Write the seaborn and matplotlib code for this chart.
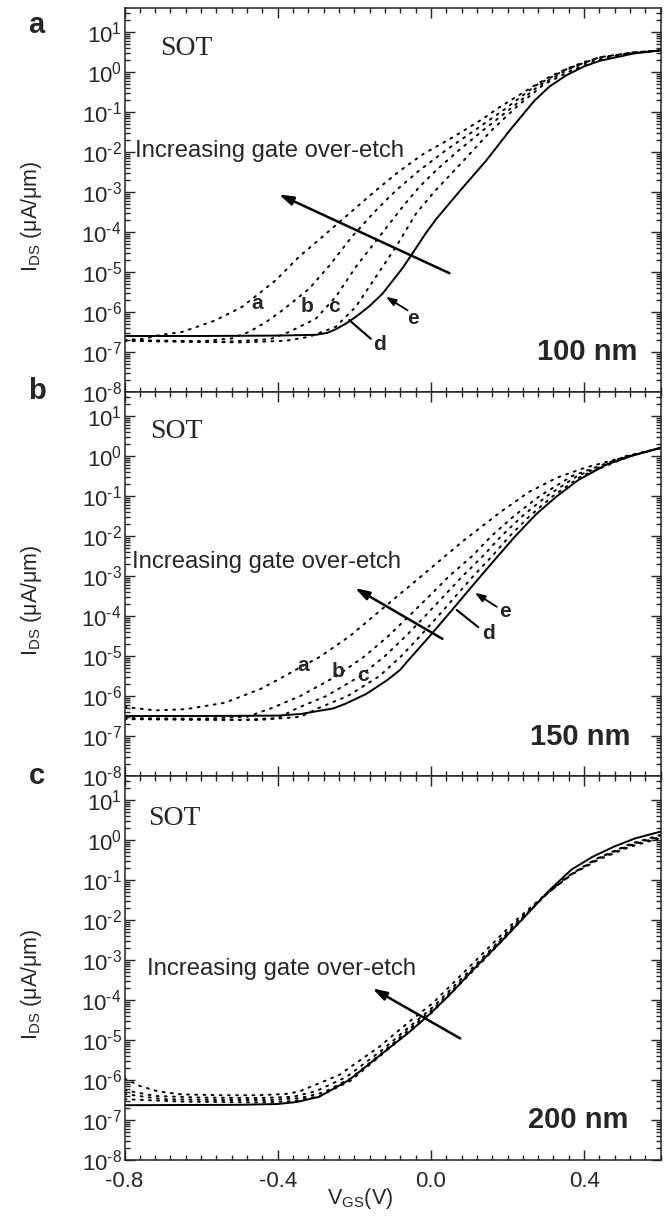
import numpy as np
import pandas as pd
import matplotlib
matplotlib.use("Agg")
import matplotlib.pyplot as plt
import seaborn as sns
from matplotlib.ticker import FixedLocator, MultipleLocator, LogLocator, FuncFormatter, NullFormatter

# ---------------- data (V_GS in volts, log10 of I_DS in uA/um) ----------------
curve_names = ["a", "b", "c", "d", "e"]

# panel a : 100 nm
A_a_V = [-0.80, -0.75, -0.71, -0.65, -0.5625, -0.4928, -0.4054, -0.3444, -0.2833, -0.2135, -0.1436, -0.0825,
         -0.02, 0.0484, 0.092, 0.1356, 0.179, 0.223, 0.2665, 0.31, 0.354, 0.40, 0.441, 0.528, 0.60]
A_a_L = [-6.70, -6.67, -6.58, -6.50, -6.21, -5.87, -5.21, -4.62, -4.12, -3.54, -2.96, -2.48,
         -2.05, -1.68, -1.43, -1.17, -0.88, -0.62, -0.36, -0.12, 0.08, 0.25, 0.36, 0.49, 0.54]
A_b_V = [-0.80, -0.60, -0.52, -0.4753, -0.43, -0.388, -0.3182, -0.2658, -0.2048, -0.1436, -0.09, -0.03,
         0.04, 0.114, 0.19, 0.275, 0.354, 0.441, 0.528, 0.60]
A_b_L = [-6.70, -6.73, -6.66, -6.50, -6.25, -5.96, -5.42, -4.85, -4.10, -3.46, -2.95, -2.46,
         -1.95, -1.46, -0.95, -0.33, 0.07, 0.37, 0.49, 0.54]
A_c_V = [-0.80, -0.55, -0.42, -0.3706, -0.3007, -0.2483, -0.1959, -0.1349, -0.0738, -0.03, 0.0135, 0.07,
         0.136, 0.21, 0.285, 0.36, 0.441, 0.528, 0.60]
A_c_L = [-6.72, -6.75, -6.68, -6.50, -6.17, -5.62, -4.87, -4.12, -3.37, -2.87, -2.46, -1.98,
         -1.46, -0.90, -0.32, 0.07, 0.36, 0.48, 0.54]
A_d_V = [-0.80, -0.50, -0.38, -0.318, -0.2483, -0.196, -0.1436, -0.0912, -0.0388, 0.01, 0.0615, 0.11,
         0.158, 0.225, 0.295, 0.37, 0.45, 0.528, 0.60]
A_d_L = [-6.72, -6.76, -6.72, -6.62, -6.37, -5.87, -5.12, -4.37, -3.54, -2.98, -2.46, -1.96,
         -1.46, -0.86, -0.31, 0.05, 0.35, 0.48, 0.54]
A_e_V = [-0.80, -0.60, -0.40, -0.30, -0.27, -0.2483, -0.222, -0.1959, -0.16, -0.1262, -0.0738, -0.0388,
         -0.0126, 0.0135, 0.075, 0.144, 0.205, 0.27, 0.31, 0.354, 0.40, 0.441, 0.528, 0.60]
A_e_L = [-6.60, -6.60, -6.59, -6.57, -6.52, -6.43, -6.29, -6.12, -5.85, -5.54, -4.90, -4.40,
         -4.02, -3.68, -2.98, -2.22, -1.47, -0.72, -0.36, -0.08, 0.14, 0.28, 0.46, 0.54]

# panel b : 150 nm
B_a_V = [-0.80, -0.72, -0.64, -0.5385, -0.4461, -0.3815, -0.333, -0.2896, -0.2113, -0.1243, -0.037, 0.0846,
         0.1819, 0.2558, 0.3296, 0.4035, 0.4774, 0.54, 0.60]
B_a_L = [-6.27, -6.36, -6.33, -6.17, -5.83, -5.50, -5.24, -5.02, -4.50, -3.80, -3.10, -2.12,
         -1.40, -0.90, -0.54, -0.29, -0.10, 0.05, 0.20]
B_b_V = [-0.80, -0.60, -0.48, -0.415, -0.341, -0.246, -0.172, -0.111, -0.057, -0.004, 0.048, 0.108,
         0.158, 0.217, 0.284, 0.369, 0.51, 0.60]
B_b_L = [-6.55, -6.57, -6.52, -6.30, -6.00, -5.50, -5.00, -4.50, -4.00, -3.50, -3.00, -2.50,
         -2.00, -1.50, -1.00, -0.50, 0.00, 0.20]
B_c_V = [-0.80, -0.50, -0.40, -0.348, -0.273, -0.184, -0.120, -0.065, -0.015, 0.034, 0.083, 0.136,
         0.184, 0.239, 0.303, 0.382, 0.515, 0.60]
B_c_L = [-6.57, -6.60, -6.55, -6.30, -6.00, -5.50, -5.00, -4.50, -4.00, -3.50, -3.00, -2.50,
         -2.00, -1.50, -1.00, -0.50, 0.00, 0.19]
B_d_V = [-0.80, -0.45, -0.34, -0.293, -0.217, -0.134, -0.077, -0.028, 0.019, 0.065, 0.111, 0.160,
         0.206, 0.258, 0.319, 0.393, 0.52, 0.60]
B_d_L = [-6.58, -6.60, -6.52, -6.30, -6.00, -5.50, -5.00, -4.50, -4.00, -3.50, -3.00, -2.50,
         -2.00, -1.50, -1.00, -0.50, 0.00, 0.20]
B_e_V = [-0.80, -0.60, -0.40, -0.34, -0.2548, -0.2245, -0.169, -0.1136, -0.0807, -0.0582, -0.0028, 0.0526,
         0.108, 0.1634, 0.2188, 0.2742, 0.3296, 0.385, 0.459, 0.5236, 0.60]
B_e_L = [-6.50, -6.50, -6.49, -6.45, -6.31, -6.20, -5.95, -5.60, -5.35, -5.10, -4.50, -3.88,
         -3.25, -2.63, -2.02, -1.46, -1.00, -0.60, -0.21, 0.00, 0.21]

# panel c : 200 nm
C_a_V = [-0.80, -0.76, -0.71, -0.65, -0.55, -0.45, -0.38, -0.3444, -0.2397, -0.1349, -0.0563, 0.0047,
         0.066, 0.1445, 0.223, 0.30, 0.37, 0.44, 0.52, 0.60]
C_a_L = [-5.96, -6.15, -6.29, -6.36, -6.38, -6.38, -6.35, -6.29, -5.875, -5.17, -4.54, -4.08,
         -3.50, -2.75, -2.00, -1.35, -0.85, -0.48, -0.17, 0.05]
C_b_V = [-0.80, -0.72, -0.60, -0.45, -0.36, -0.30, -0.22, -0.13, -0.05, 0.01, 0.07, 0.15,
         0.225, 0.30, 0.37, 0.44, 0.52, 0.60]
C_b_L = [-6.25, -6.40, -6.44, -6.45, -6.42, -6.28, -5.92, -5.27, -4.62, -4.14, -3.56, -2.80,
         -2.04, -1.36, -0.84, -0.46, -0.14, 0.08]
C_c_V = [-0.80, -0.70, -0.55, -0.42, -0.34, -0.28, -0.21, -0.13, -0.05, 0.01, 0.07, 0.15,
         0.225, 0.30, 0.37, 0.44, 0.52, 0.60]
C_c_L = [-6.35, -6.48, -6.50, -6.50, -6.45, -6.31, -5.96, -5.34, -4.68, -4.19, -3.62, -2.84,
         -2.08, -1.37, -0.83, -0.44, -0.12, 0.10]
C_d_V = [-0.80, -0.65, -0.45, -0.36, -0.29, -0.21, -0.13, -0.05, 0.00, 0.06, 0.13, 0.20,
         0.28, 0.35, 0.43, 0.52, 0.60]
C_d_L = [-6.48, -6.54, -6.56, -6.53, -6.40, -6.02, -5.38, -4.74, -4.34, -3.76, -3.08, -2.38,
         -1.55, -0.95, -0.48, -0.10, 0.13]
C_e_V = [-0.80, -0.50, -0.40, -0.35, -0.292, -0.2135, -0.1262, -0.0563, -0.0084, 0.0484, 0.1095, 0.1793,
         0.2665, 0.31, 0.367, 0.422, 0.477, 0.533, 0.60]
C_e_L = [-6.63, -6.62, -6.60, -6.55, -6.42, -6.00, -5.33, -4.80, -4.40, -3.875, -3.25, -2.58,
         -1.70, -1.25, -0.74, -0.42, -0.17, 0.04, 0.21]

panel_letters = ["a", "b", "c"]
gate_lengths = ["100 nm", "150 nm", "200 nm"]
device_label = "SOT"
arrow_text = "Increasing gate over-etch"

x_ticks = [-0.8, -0.4, 0.0, 0.4]
x_ticklabels = ["-0.8", "-0.4", "0.0", "0.4"]
y_exponents = [-8, -7, -6, -5, -4, -3, -2, -1, 0, 1]

# big arrows (tail -> head), (V, log10 I)
big_arrows = [((0.0484, -5.03), (-0.3968, -3.06)),
              ((0.0300, -4.57), (-0.1980, -3.30)),
              ((0.0764, -4.96), (-0.1524, -3.71))]
# curve labels: (label, V, log10 I)
curve_label_pos = [
    [("a", -0.4536, -5.79), ("b", -0.3227, -5.86), ("c", -0.2527, -5.87), ("d", -0.135, -6.80), ("e", -0.0477, -6.17)],
    [("a", -0.333, -5.23), ("b", -0.2418, -5.39), ("c", -0.1765, -5.48), ("d", 0.150, -4.43), ("e", 0.1935, -3.89)],
    [],
]
# leader for d (plain line) and e (arrow): start -> end
d_leaders = [((-0.2135, -6.20), (-0.1567, -6.67)), ((0.0674, -3.85), (0.1238, -4.28)), None]
e_leaders = [((-0.0607, -5.96), (-0.1174, -5.62)), ((0.1718, -3.77), (0.1151, -3.42)), None]

sot_pos = [(0.066, 0.878), (0.048, 0.880), (0.044, 0.872)]
txt_pos = [(0.0196, 0.612), (0.0147, 0.542), (0.0412, 0.482)]
nm_pos = [(0.957, 0.083), (0.943, 0.081), (0.939, 0.083)]
letter_pos = [(36.5, 25), (36.5, 391), (36.5, 776)]

panels = [
    [(A_a_V, A_a_L), (A_b_V, A_b_L), (A_c_V, A_c_L), (A_d_V, A_d_L), (A_e_V, A_e_L)],
    [(B_a_V, B_a_L), (B_b_V, B_b_L), (B_c_V, B_c_L), (B_d_V, B_d_L), (B_e_V, B_e_L)],
    [(C_a_V, C_a_L), (C_b_V, C_b_L), (C_c_V, C_c_L), (C_d_V, C_d_L), (C_e_V, C_e_L)],
]

# ---------------- style ----------------
sns.set_theme(style="ticks")
plt.rcParams["font.family"] = ["Liberation Sans", "DejaVu Sans"]
plt.rcParams["mathtext.fontset"] = "custom"
plt.rcParams["mathtext.rm"] = "Liberation Sans"
plt.rcParams["mathtext.it"] = "Liberation Sans:italic"
plt.rcParams["mathtext.bf"] = "Liberation Sans:bold"
plt.rcParams["mathtext.default"] = "regular"
plt.rcParams["axes.unicode_minus"] = False

W, H = 672, 1218
fig = plt.figure(figsize=(W / 100, H / 100), dpi=100)
left_px, right_px = 124.5, 660.7
top_px, ph = 8.0, 384.0

palette = {n: "black" for n in curve_names}
dashes = {n: (1.0, 3.2) for n in curve_names[:-1]}
dashes["e"] = ""


def px_axes(i):
    top = top_px + i * ph
    return [left_px / W, 1 - (top + ph) / H, (right_px - left_px) / W, ph / H]


def L2I(v):
    return 10.0 ** v


def ylab(y, p):
    e = int(round(np.log10(y)))
    if e < 0:
        return r"$10^{\text{-}%d}$" % (-e)
    return r"$10^{%d}$" % e


for i, curves in enumerate(panels):
    ax = fig.add_axes(px_axes(i))
    rows = []
    for name, (vv, ll) in zip(curve_names, curves):
        for v, l in zip(vv, ll):
            rows.append({"V": v, "I": L2I(l), "curve": name})
    df = pd.DataFrame(rows)
    sns.lineplot(data=df, x="V", y="I", hue="curve", style="curve", palette=palette,
                 dashes=dashes, estimator=None, sort=False, legend=False, linewidth=1.4, ax=ax)
    for ln in ax.get_lines():
        ln.set_solid_capstyle("round")
        ln.set_dash_capstyle("round")
        ln.set_solid_joinstyle("round")
    ax.set_yscale("log")
    ax.set_xlim(-0.8, 0.6)
    ax.set_ylim(1e-8, 10 ** 1.6)

    ax.xaxis.set_major_locator(FixedLocator(x_ticks))
    ax.xaxis.set_minor_locator(MultipleLocator(0.04))
    ax.yaxis.set_major_locator(FixedLocator([10.0 ** e for e in y_exponents]))
    ax.yaxis.set_minor_locator(LogLocator(base=10, subs=np.arange(2, 10), numticks=100))
    ax.yaxis.set_minor_formatter(NullFormatter())
    ax.yaxis.set_major_formatter(FuncFormatter(ylab))
    ax.tick_params(which="both", direction="in", top=True, right=True, width=1.0, color="#222222")
    ax.tick_params(which="major", length=7)
    ax.tick_params(which="minor", length=3.5)
    ax.tick_params(axis="y", which="major", labelsize=16, pad=2)
    ax.tick_params(axis="x", which="major", labelsize=16, pad=8)
    for s in ax.spines.values():
        s.set_linewidth(1.1)
        s.set_color("#222222")

    if i < 2:
        ax.set_xticklabels([])
        ax.set_xlabel("")
    else:
        ax.set_xticklabels(x_ticklabels)
        ax.set_xlabel(r"V$_{GS}$(V)", fontsize=15.5)
        ax.xaxis.set_label_coords(0.439, -0.068)
    ax.set_ylabel(r"I$_{DS}$ (μA/μm)", fontsize=15.5)
    ax.yaxis.set_label_coords(-0.15, 0.458)

    # texts
    ax.text(*sot_pos[i], device_label, transform=ax.transAxes, fontsize=20,
            family=["Liberation Serif", "DejaVu Serif"], va="baseline", ha="left")
    ax.text(*txt_pos[i], arrow_text, transform=ax.transAxes, fontsize=17.2, va="baseline", ha="left")
    ax.text(*nm_pos[i], gate_lengths[i], transform=ax.transAxes, fontsize=21, fontweight="bold",
            va="baseline", ha="right")

    (tv, tl), (hv, hl) = big_arrows[i]
    ax.annotate("", xy=(hv, L2I(hl)), xytext=(tv, L2I(tl)),
                arrowprops=dict(arrowstyle="-|>,head_length=0.7,head_width=0.22", lw=1.8,
                                color="black", shrinkA=0, shrinkB=0))
    for lab, v, l in curve_label_pos[i]:
        ax.text(v, L2I(l), lab, fontsize=15, fontweight="bold", ha="center", va="center")
    if d_leaders[i] is not None:
        (v0, l0), (v1, l1) = d_leaders[i]
        ax.annotate("", xy=(v1, L2I(l1)), xytext=(v0, L2I(l0)),
                    arrowprops=dict(arrowstyle="-", lw=1.5, color="black", shrinkA=0, shrinkB=0))
    if e_leaders[i] is not None:
        (v0, l0), (v1, l1) = e_leaders[i]
        ax.annotate("", xy=(v1, L2I(l1)), xytext=(v0, L2I(l0)),
                    arrowprops=dict(arrowstyle="-|>,head_length=0.5,head_width=0.18", lw=1.3,
                                    color="black", shrinkA=0, shrinkB=0))

for lt, (x, y) in zip(panel_letters, letter_pos):
    fig.text(x / W, 1 - y / H, lt, fontsize=21, fontweight="bold", ha="center", va="center")

fig.savefig("out.png", dpi=100)
